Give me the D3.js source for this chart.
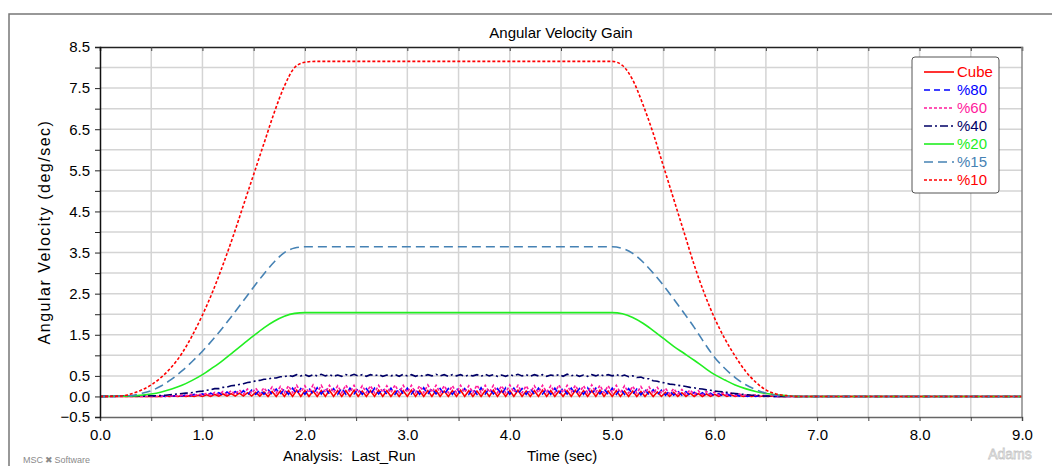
<!DOCTYPE html>
<html>
<head>
<meta charset="utf-8">
<script src="https://cdn.jsdelivr.net/npm/d3@7"></script>
<style>
  body { margin: 0; background: #fff; }
  svg { display: block; font-family: Arial, "Liberation Sans", sans-serif; }
</style>
</head>
<body>
<div class="chart"></div>
<script>
const WIDTH = 1052;
const HEIGHT = 466;
const PLOT = {left: 100, right: 1022, top: 47, bottom: 417};

// axis ticks and labels
const X_TICKS = [0, 0.5, 1, 1.5, 2, 2.5, 3, 3.5, 4, 4.5, 5, 5.5, 6, 6.5, 7, 7.5, 8, 8.5, 9];
const X_LABELS = [0, 1, 2, 3, 4, 5, 6, 7, 8, 9];
const Y_TICKS = [-0.5, 0, 0.5, 1, 1.5, 2, 2.5, 3, 3.5, 4, 4.5, 5, 5.5, 6, 6.5, 7, 7.5, 8, 8.5];
const Y_LABELS = [8.5, 7.5, 6.5, 5.5, 4.5, 3.5, 2.5, 1.5, 0.5, 0, -0.5];

// smooth runs, [time (sec), angular velocity (deg/sec)]
const PCT10 = [[0, 0], [0.2, 0.01], [0.3, 0.06], [0.4, 0.15], [0.5, 0.28], [0.6, 0.47], [0.7, 0.72],
  [0.8, 1.05], [0.9, 1.48], [1.0, 1.98], [1.1, 2.55], [1.2, 3.2], [1.3, 3.9], [1.4, 4.65], [1.5, 5.4],
  [1.6, 6.15], [1.7, 6.9], [1.8, 7.55], [1.9, 8.0], [2.0, 8.13], [2.1, 8.15], [5.0, 8.15], [5.1, 8.05],
  [5.2, 7.7], [5.3, 7.1], [5.4, 6.4], [5.5, 5.6], [5.6, 4.8], [5.7, 4.0], [5.8, 3.2], [5.9, 2.5],
  [6.0, 1.9], [6.1, 1.4], [6.2, 0.98], [6.3, 0.62], [6.4, 0.35], [6.5, 0.16], [6.6, 0.06], [6.7, 0.02],
  [6.8, 0], [9, 0]];
const PCT15 = [[0, 0], [0.3, 0.02], [0.4, 0.07], [0.5, 0.14], [0.6, 0.26], [0.7, 0.42], [0.8, 0.62],
  [0.9, 0.85], [1.0, 1.1], [1.1, 1.38], [1.2, 1.68], [1.3, 2.0], [1.4, 2.33], [1.5, 2.66], [1.6, 2.98],
  [1.7, 3.27], [1.8, 3.5], [1.9, 3.61], [2.0, 3.64], [5.0, 3.64], [5.1, 3.6], [5.2, 3.48], [5.3, 3.27],
  [5.4, 3.0], [5.5, 2.7], [5.6, 2.37], [5.7, 2.03], [5.8, 1.68], [5.9, 1.3], [6.0, 0.95], [6.1, 0.68],
  [6.2, 0.46], [6.3, 0.29], [6.4, 0.17], [6.5, 0.08], [6.6, 0.03], [6.7, 0.01], [6.8, 0], [9, 0]];
const PCT20 = [[0, 0], [0.3, 0.01], [0.4, 0.03], [0.5, 0.06], [0.6, 0.11], [0.7, 0.18], [0.8, 0.27],
  [0.9, 0.39], [1.0, 0.53], [1.1, 0.7], [1.2, 0.88], [1.3, 1.08], [1.4, 1.28], [1.5, 1.48], [1.6, 1.67],
  [1.7, 1.83], [1.8, 1.95], [1.9, 2.02], [2.0, 2.04], [5.0, 2.04], [5.1, 2.01], [5.2, 1.92], [5.3, 1.78],
  [5.4, 1.6], [5.5, 1.41], [5.6, 1.22], [5.7, 1.05], [5.8, 0.88], [5.9, 0.7], [6.0, 0.53], [6.1, 0.4],
  [6.2, 0.28], [6.3, 0.19], [6.4, 0.12], [6.5, 0.07], [6.6, 0.04], [6.7, 0.02], [6.8, 0], [9, 0]];

// oscillating runs, sampled every BAND_STEP sec from BAND_START
const BAND_START = 0.6;
const BAND_STEP = 0.04;
const PCT40 = [
  0.02, 0.03, 0.04, 0.05, 0.06, 0.07, 0.08, 0.09, 0.1, 0.12,
  0.13, 0.15, 0.16, 0.19, 0.19, 0.22, 0.23, 0.26, 0.27, 0.29,
  0.31, 0.34, 0.35, 0.38, 0.39, 0.42, 0.42, 0.45, 0.45, 0.48,
  0.48, 0.51, 0.49, 0.53, 0.5, 0.53, 0.49, 0.53, 0.5, 0.54,
  0.5, 0.53, 0.49, 0.52, 0.49, 0.53, 0.5, 0.54, 0.5, 0.53,
  0.49, 0.53, 0.5, 0.53, 0.49, 0.52, 0.5, 0.53, 0.49, 0.54,
  0.5, 0.53, 0.49, 0.52, 0.49, 0.53, 0.5, 0.54, 0.5, 0.53,
  0.49, 0.53, 0.5, 0.53, 0.49, 0.52, 0.5, 0.53, 0.49, 0.54,
  0.5, 0.53, 0.49, 0.52, 0.49, 0.53, 0.5, 0.54, 0.5, 0.53,
  0.49, 0.53, 0.5, 0.53, 0.49, 0.52, 0.5, 0.53, 0.49, 0.54,
  0.5, 0.53, 0.49, 0.52, 0.49, 0.53, 0.5, 0.54, 0.5, 0.53,
  0.5, 0.53, 0.49, 0.52, 0.48, 0.5, 0.46, 0.47, 0.43, 0.43,
  0.38, 0.37, 0.34, 0.33, 0.3, 0.29, 0.27, 0.26, 0.24, 0.22,
  0.21, 0.19, 0.18, 0.16, 0.15, 0.13, 0.12, 0.11, 0.1, 0.08,
  0.07, 0.06, 0.05, 0.04, 0.03, 0.03, 0.02, 0.01, 0.01, 0, 0];
const PCT60 = [
  0, 0.01, 0.01, 0.02, 0.01, 0.03, 0.02, 0.05, 0.02, 0.06,
  0.03, 0.08, 0.03, 0.1, 0.04, 0.12, 0.05, 0.14, 0.05, 0.16,
  0.06, 0.18, 0.07, 0.2, 0.07, 0.21, 0.08, 0.23, 0.08, 0.24,
  0.09, 0.26, 0.09, 0.27, 0.1, 0.26, 0.09, 0.28, 0.09, 0.27,
  0.1, 0.27, 0.09, 0.26, 0.09, 0.28, 0.1, 0.27, 0.09, 0.26,
  0.09, 0.26, 0.09, 0.27, 0.1, 0.26, 0.09, 0.28, 0.09, 0.27,
  0.1, 0.27, 0.09, 0.26, 0.09, 0.28, 0.1, 0.27, 0.09, 0.26,
  0.09, 0.26, 0.09, 0.27, 0.1, 0.26, 0.09, 0.28, 0.09, 0.27,
  0.1, 0.27, 0.09, 0.26, 0.09, 0.28, 0.1, 0.27, 0.09, 0.26,
  0.09, 0.26, 0.09, 0.27, 0.1, 0.26, 0.09, 0.28, 0.09, 0.27,
  0.1, 0.27, 0.09, 0.26, 0.09, 0.28, 0.1, 0.27, 0.09, 0.26,
  0.09, 0.27, 0.09, 0.26, 0.08, 0.25, 0.08, 0.24, 0.08, 0.23,
  0.07, 0.22, 0.07, 0.2, 0.06, 0.19, 0.06, 0.17, 0.05, 0.16,
  0.05, 0.14, 0.04, 0.12, 0.04, 0.11, 0.03, 0.09, 0.03, 0.08,
  0.02, 0.06, 0.02, 0.05, 0.01, 0.04, 0.01, 0.03, 0, 0.02, 0];
const PCT80 = [
  0.01, 0, 0.02, 0.01, 0.03, 0.01, 0.04, 0.02, 0.05, 0.02,
  0.06, 0.02, 0.08, 0.03, 0.09, 0.03, 0.11, 0.04, 0.12, 0.04,
  0.14, 0.04, 0.15, 0.05, 0.16, 0.05, 0.17, 0.05, 0.18, 0.05,
  0.19, 0.05, 0.2, 0.06, 0.19, 0.05, 0.2, 0.05, 0.21, 0.06,
  0.2, 0.06, 0.19, 0.05, 0.21, 0.05, 0.2, 0.06, 0.19, 0.05,
  0.19, 0.05, 0.2, 0.06, 0.19, 0.05, 0.2, 0.05, 0.21, 0.06,
  0.2, 0.06, 0.19, 0.05, 0.21, 0.05, 0.2, 0.06, 0.19, 0.05,
  0.19, 0.05, 0.2, 0.06, 0.19, 0.05, 0.2, 0.05, 0.21, 0.06,
  0.2, 0.06, 0.19, 0.05, 0.21, 0.05, 0.2, 0.06, 0.19, 0.05,
  0.19, 0.05, 0.2, 0.06, 0.19, 0.05, 0.2, 0.05, 0.21, 0.06,
  0.2, 0.06, 0.19, 0.05, 0.21, 0.05, 0.2, 0.06, 0.19, 0.05,
  0.2, 0.05, 0.19, 0.05, 0.19, 0.05, 0.18, 0.04, 0.17, 0.04,
  0.16, 0.04, 0.15, 0.03, 0.14, 0.03, 0.13, 0.03, 0.12, 0.02,
  0.1, 0.02, 0.09, 0.02, 0.08, 0.01, 0.07, 0.01, 0.06, 0.01,
  0.05, 0.01, 0.04, 0, 0.03, 0, 0.02, 0, 0.01, 0, 0];
const CUBE = [
  0, 0.01, 0, 0.01, 0, 0.02, 0, 0.02, 0, 0.03,
  0, 0.04, 0, 0.05, 0.01, 0.06, 0.01, 0.07, 0.01, 0.08,
  0.01, 0.09, 0.01, 0.1, 0.01, 0.11, 0, 0.12, 0, 0.13,
  0, 0.14, 0, 0.15, 0, 0.14, 0, 0.13, 0, 0.14,
  0, 0.15, 0, 0.14, 0, 0.14, 0, 0.15, 0, 0.13,
  0, 0.14, 0, 0.15, 0, 0.14, 0, 0.13, 0, 0.14,
  0, 0.15, 0, 0.14, 0, 0.14, 0, 0.15, 0, 0.13,
  0, 0.14, 0, 0.15, 0, 0.14, 0, 0.13, 0, 0.14,
  0, 0.15, 0, 0.14, 0, 0.14, 0, 0.15, 0, 0.13,
  0, 0.14, 0, 0.15, 0, 0.14, 0, 0.13, 0, 0.14,
  0, 0.15, 0, 0.14, 0, 0.14, 0, 0.15, 0, 0.13,
  0, 0.14, 0, 0.13, 0, 0.13, 0, 0.12, 0, 0.12,
  0, 0.11, 0, 0.1, 0, 0.1, 0, 0.09, 0, 0.08,
  0, 0.07, 0, 0.06, 0, 0.05, 0, 0.05, 0, 0.04,
  0, 0.03, 0, 0.02, 0, 0.02, 0, 0.01, 0, 0.01, 0];

const SERIES_NAMES = ['Cube', '%80', '%60', '%40', '%20', '%15', '%10'];

const bandPoints = (values) => {
  const pts = values.map((v, i) => {
    return [BAND_START + i * BAND_STEP, v];
  });
  return [[0, 0], ...pts, [9, 0]];
};

const series = [
  {name: 'Cube', points: bandPoints(CUBE), color: '#ff0000', dash: null, smooth: false},
  {name: '%80', points: bandPoints(PCT80), color: '#0000ff', dash: '6,4', smooth: false},
  {name: '%60', points: bandPoints(PCT60), color: '#ff1a9c', dash: '3,2', smooth: false},
  {name: '%40', points: bandPoints(PCT40), color: '#000066', dash: '8,3,2,3', smooth: false},
  {name: '%20', points: PCT20, color: '#22ee22', dash: null, smooth: true},
  {name: '%15', points: PCT15, color: '#4682b4', dash: '9,5', smooth: true},
  {name: '%10', points: PCT10, color: '#ff0000', dash: '3,2', smooth: true},
];

const svg = d3.select('.chart')
    .append('svg')
    .attr('width', WIDTH)
    .attr('height', HEIGHT);

// outer frame (runs off the right and bottom edges)
svg.append('path')
    .attr('d', `M9,${HEIGHT + 2}V14H${WIDTH + 2}`)
    .attr('fill', 'none')
    .attr('stroke', '#777')
    .attr('stroke-width', 1.5);

const x = d3.scaleLinear().domain([0, 9]).range([PLOT.left, PLOT.right]);
const y = d3.scaleLinear().domain([-0.5, 8.5]).range([PLOT.bottom, PLOT.top]);

// grid
const grid = svg.append('g').attr('stroke', '#d4d4d4').attr('stroke-width', 1.5);
grid.selectAll('.gx')
    .data(X_TICKS.slice(1, -1))
    .enter().append('line')
    .attr('x1', (t) => { return x(t); })
    .attr('x2', (t) => { return x(t); })
    .attr('y1', PLOT.top)
    .attr('y2', PLOT.bottom);
grid.selectAll('.gy')
    .data(Y_TICKS.slice(1, -1))
    .enter().append('line')
    .attr('y1', (v) => { return y(v); })
    .attr('y2', (v) => { return y(v); })
    .attr('x1', PLOT.left)
    .attr('x2', PLOT.right);

// curves
svg.append('clipPath').attr('id', 'plot-clip')
    .append('rect')
    .attr('x', PLOT.left).attr('y', PLOT.top)
    .attr('width', PLOT.right - PLOT.left).attr('height', PLOT.bottom - PLOT.top);

const lines = svg.append('g').attr('clip-path', 'url(#plot-clip)');
series.forEach((s) => {
  const line = d3.line()
      .x((d) => { return x(d[0]); })
      .y((d) => { return y(d[1]); })
      .curve(s.smooth ? d3.curveMonotoneX : d3.curveLinear);
  lines.append('path')
      .datum(s.points)
      .attr('d', line)
      .attr('fill', 'none')
      .attr('stroke', s.color)
      .attr('stroke-width', 1.6)
      .attr('stroke-dasharray', s.dash);
});

// frame: top and right borders
svg.append('g')
    .attr('transform', `translate(0,${PLOT.top})`)
    .call(d3.axisTop(x).tickValues(X_TICKS).tickSize(-4).tickFormat(''))
    .call((g) => {
      g.select('.domain').attr('stroke', '#222').attr('stroke-width', 1.5);
      g.selectAll('.tick line').attr('stroke', '#444');
    });
svg.append('line')
    .attr('x1', PLOT.right).attr('x2', PLOT.right)
    .attr('y1', PLOT.top).attr('y2', PLOT.bottom)
    .attr('stroke', '#888').attr('stroke-width', 1.5);

// bottom axis
svg.append('g')
    .attr('transform', `translate(0,${PLOT.bottom})`)
    .call(d3.axisBottom(x).tickValues(X_TICKS).tickSize(4).tickPadding(8)
        .tickFormat((t) => { return X_LABELS.includes(t) ? d3.format('.1f')(t) : ''; }))
    .call((g) => {
      g.select('.domain').attr('stroke', '#666').attr('stroke-width', 1.5);
      g.selectAll('.tick line').attr('stroke', '#444');
      g.selectAll('text').attr('font-size', 15).attr('fill', '#000')
          .attr('font-family', 'Arial, "Liberation Sans", sans-serif');
    });

// left axis
svg.append('g')
    .attr('transform', `translate(${PLOT.left},0)`)
    .call(d3.axisLeft(y).tickValues(Y_TICKS).tickSize(5).tickPadding(5)
        .tickFormat((v) => { return Y_LABELS.includes(v) ? d3.format('.1f')(v) : ''; }))
    .call((g) => {
      g.select('.domain').attr('stroke', '#111').attr('stroke-width', 1.5);
      g.selectAll('.tick line').attr('stroke', '#222');
      g.selectAll('text').attr('font-size', 15).attr('fill', '#000')
          .attr('font-family', 'Arial, "Liberation Sans", sans-serif');
    });

// titles
svg.append('text')
    .attr('x', 561).attr('y', 38)
    .attr('text-anchor', 'middle')
    .attr('font-size', 15)
    .text('Angular Velocity Gain');
svg.append('text')
    .attr('transform', `translate(50,${(PLOT.top + PLOT.bottom) / 2}) rotate(-90)`)
    .attr('text-anchor', 'middle')
    .attr('font-size', 16)
    .attr('letter-spacing', 1.5)
    .text('Angular Velocity (deg/sec)');
svg.append('text')
    .attr('x', 283).attr('y', 461)
    .attr('font-size', 15)
    .style('white-space', 'pre')
    .text('Analysis:  Last_Run');
svg.append('text')
    .attr('x', 527).attr('y', 461)
    .attr('font-size', 15)
    .text('Time (sec)');

// vendor marks
svg.append('text')
    .attr('x', 23).attr('y', 463)
    .attr('font-size', 9)
    .attr('fill', '#8a8a8a')
    .text('MSC\u2009\u2716\u2009Software');
svg.append('text')
    .attr('x', 1010).attr('y', 459)
    .attr('text-anchor', 'middle')
    .attr('font-size', 14)
    .attr('fill', '#fff')
    .attr('stroke', '#c8c8c8')
    .attr('stroke-width', 0.8)
    .text('Adams');

// legend
const legend = svg.append('g').attr('transform', 'translate(912,57)');
legend.append('rect')
    .attr('width', 87).attr('height', 136)
    .attr('rx', 3)
    .attr('fill', '#fff')
    .attr('stroke', '#555');
const items = legend.selectAll('.item')
    .data(SERIES_NAMES.map((n) => { return series.find((s) => { return s.name === n; }); }))
    .enter().append('g')
    .attr('transform', (s, i) => { return `translate(0,${15 + i * 18})`; });
items.append('line')
    .attr('x1', 12).attr('x2', 42)
    .attr('stroke', (s) => { return s.color; })
    .attr('stroke-width', 1.6)
    .attr('stroke-dasharray', (s) => { return s.dash; });
items.append('text')
    .attr('x', 45).attr('dy', '0.36em')
    .attr('font-size', 15)
    .attr('fill', (s) => { return s.color; })
    .text((s) => { return s.name; });
</script>
</body>
</html>
